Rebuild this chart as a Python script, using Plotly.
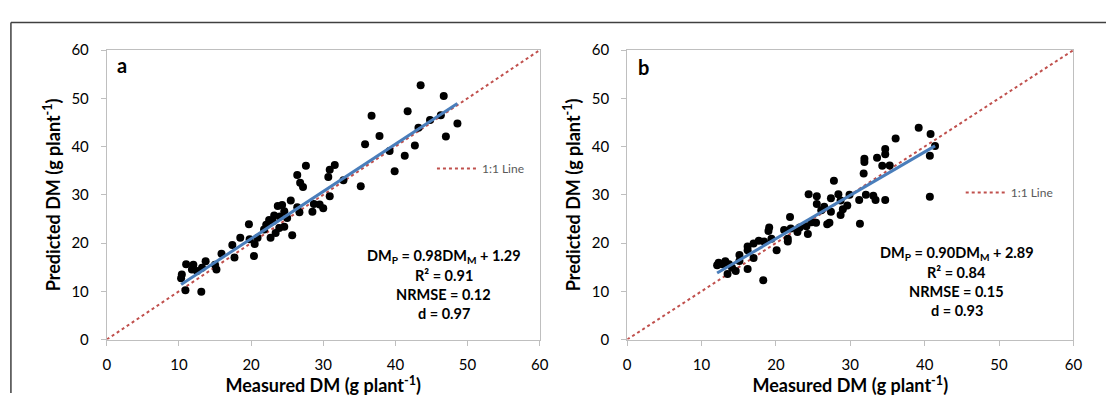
import plotly.graph_objects as go

# ---------------- data ----------------
a_measured = [43.5, 46.7, 36.7, 41.7, 48.6, 47.0, 37.8, 35.8, 42.7, 43.2, 44.8, 46.3, 39.2, 41.3, 39.9,
              35.2, 27.6, 31.6, 30.9, 30.7, 26.4, 26.8, 27.2, 32.8, 30.9, 30.0, 28.7, 28.5, 25.5, 24.3,
              23.7, 24.6, 26.4, 26.7, 23.2, 22.5, 22.1, 23.9, 24.6, 23.4, 22.7, 25.7, 19.7, 20.9, 20.5,
              18.5, 17.4, 17.7, 20.4, 15.9, 15.0, 15.2, 13.7, 13.2, 12.0, 11.0, 11.8, 10.4, 10.3, 10.9,
              13.1, 12.5, 21.8, 19.8, 23.0, 24.0, 25.0, 29.5]
a_predicted = [52.7, 50.5, 46.4, 47.3, 44.8, 42.1, 42.2, 40.5, 40.2, 43.9, 45.5, 46.5, 39.1, 38.1, 34.9,
               31.8, 36.0, 36.2, 35.2, 33.7, 34.1, 32.5, 31.6, 33.0, 29.7, 27.2, 28.1, 26.5, 28.8, 27.9,
               27.7, 26.6, 27.4, 26.4, 25.7, 24.8, 23.8, 23.1, 23.4, 22.1, 21.1, 21.6, 23.9, 21.1, 19.8,
               21.1, 19.6, 17.0, 17.3, 17.8, 15.5, 14.5, 16.2, 14.9, 15.5, 15.6, 14.5, 13.5, 12.7, 10.2,
               9.9, 14.2, 22.8, 20.8, 24.5, 25.5, 25.2, 28.0]

b_measured = [39.2, 40.8, 36.1, 41.4, 40.7, 40.7, 34.7, 34.7, 33.6, 31.9, 31.9, 34.3, 35.3, 31.8, 27.8,
              24.4, 25.5, 28.4, 29.9, 27.4, 28.7, 29.6, 31.2, 32.1, 33.1, 33.4, 34.7, 25.5, 26.1, 27.4,
              28.7, 31.3, 21.9, 24.8, 25.4, 24.1, 27.2, 26.9, 24.3, 22.9, 22.0, 21.1, 23.2, 21.6, 21.6,
              19.1, 19.0, 19.4, 18.4, 17.7, 17.0, 16.2, 16.2, 20.1, 15.1, 17.0, 15.1, 14.6, 16.2, 18.3,
              13.5, 13.2, 12.3, 12.1, 12.8, 14.1, 13.7, 26.5, 29.0]
b_predicted = [43.9, 42.6, 41.7, 40.1, 38.1, 29.6, 39.5, 38.4, 37.7, 37.5, 36.8, 36.0, 36.1, 34.4, 32.9,
               30.1, 29.7, 30.1, 30.0, 29.3, 28.8, 27.8, 28.9, 30.0, 29.8, 28.9, 28.9, 28.1, 26.8, 26.5,
               25.8, 24.0, 25.4, 24.3, 24.2, 23.5, 24.2, 23.9, 21.9, 22.3, 23.0, 22.7, 23.2, 20.9, 20.3,
               23.2, 22.5, 20.9, 20.3, 20.5, 19.9, 19.3, 18.5, 18.5, 17.5, 16.9, 16.3, 14.2, 14.6, 12.3,
               13.6, 16.2, 15.9, 15.4, 15.6, 14.9, 15.6, 27.5, 27.0]

a_slope, a_intercept = 0.98, 1.29
b_slope, b_intercept = 0.90, 2.89

one_to_one = [0, 60]
tick_vals = [0, 10, 20, 30, 40, 50, 60]

a_stats = ["DM<sub>P</sub> = 0.98DM<sub>M</sub> + 1.29", "R² = 0.91", "NRMSE = 0.12", "d = 0.97"]
b_stats = ["DM<sub>P</sub> = 0.90DM<sub>M</sub> + 2.89", "R² = 0.84", "NRMSE = 0.15", "d = 0.93"]

FONT = "Lato"
W, H = 1115, 401

fig = go.Figure()


def add_panel(xs, ys, slope, intercept, xa, ya, legend):
    fig.add_trace(go.Scatter(x=one_to_one, y=one_to_one, mode="lines", name="1:1 Line",
                             line=dict(color="#C0504D", width=2, dash="dot"),
                             xaxis=xa, yaxis=ya, legend=legend, showlegend=True))
    fig.add_trace(go.Scatter(x=xs, y=ys, mode="markers", marker=dict(color="black", size=8),
                             xaxis=xa, yaxis=ya, showlegend=False))
    x0, x1 = min(xs), max(xs)
    fig.add_trace(go.Scatter(x=[x0, x1], y=[slope * x0 + intercept, slope * x1 + intercept],
                             mode="lines", line=dict(color="#4A7EBB", width=3),
                             xaxis=xa, yaxis=ya, showlegend=False))


add_panel(a_measured, a_predicted, a_slope, a_intercept, "x", "y", "legend")
add_panel(b_measured, b_predicted, b_slope, b_intercept, "x2", "y2", "legend2")


def px(v):
    return v / W


def py(v):
    return 1 - v / H


ydom = [py(345), py(42)]
axis_common = dict(range=[0, 60], tickvals=tick_vals, showgrid=False, zeroline=False,
                   showline=True, linecolor="#BFBFBF", linewidth=1, mirror=True,
                   ticks="outside", ticklen=5, tickcolor="#BFBFBF",
                   tickfont=dict(family=FONT, size=15, color="#000000"))

xtitle = dict(text="<b>Measured DM (g plant<sup>-1</sup>)</b>", font=dict(family=FONT, size=18, color="#000"), standoff=0)
ytitle = dict(text="<b>Predicted DM (g plant<sup>-1</sup>)</b>", font=dict(family=FONT, size=18, color="#000"), standoff=6)

legend_common = dict(xanchor="left", yanchor="middle", bgcolor="rgba(0,0,0,0)", itemwidth=40,
                     font=dict(family=FONT, size=12, color="#595959"))

fig.update_layout(
    width=W, height=H, autosize=False,
    margin=dict(l=0, r=0, t=0, b=0),
    paper_bgcolor="white", plot_bgcolor="white",
    xaxis=dict(domain=[px(104), px(542)], anchor="y", title=xtitle, ticklabelstandoff=6, **axis_common),
    yaxis=dict(domain=ydom, anchor="x", title=ytitle, ticklabelstandoff=9, **axis_common),
    xaxis2=dict(domain=[px(630.5), px(1082)], anchor="y2", title=xtitle, ticklabelstandoff=6, **axis_common),
    yaxis2=dict(domain=ydom, anchor="x2", title=ytitle, ticklabelstandoff=9, **axis_common),
    legend=dict(x=px(433), y=py(166), **legend_common),
    legend2=dict(x=px(968), y=py(191), **legend_common),
    showlegend=True,
)

# outer frame
fig.add_shape(type="line", xref="paper", yref="paper", x0=px(7), x1=1, y0=py(13), y1=py(13),
              line=dict(color="#404040", width=1.5))
fig.add_shape(type="line", xref="paper", yref="paper", x0=px(7), x1=px(7), y0=0, y1=py(13),
              line=dict(color="#404040", width=1.5))

# panel letters
fig.add_annotation(xref="paper", yref="paper", x=px(112), y=py(58), text="<b>a</b>", showarrow=False,
                   xanchor="left", yanchor="middle", font=dict(family=FONT, size=20, color="#000"))
fig.add_annotation(xref="paper", yref="paper", x=px(639), y=py(60), text="<b>b</b>", showarrow=False,
                   xanchor="left", yanchor="middle", font=dict(family=FONT, size=20, color="#000"))

# stats text
for i, line in enumerate(a_stats):
    fig.add_annotation(xref="paper", yref="paper", x=px(445), y=py(258 + 20 * i),
                       text="<b>" + line + "</b>", showarrow=False, xanchor="center", yanchor="middle",
                       font=dict(family=FONT, size=14.5, color="#000"))
for i, line in enumerate(b_stats):
    fig.add_annotation(xref="paper", yref="paper", x=px(964), y=py(255 + 20 * i),
                       text="<b>" + line + "</b>", showarrow=False, xanchor="center", yanchor="middle",
                       font=dict(family=FONT, size=14.5, color="#000"))

fig.write_html(
    "out.html",
    config={"displayModeBar": False},
    post_script="document.body.style.margin='0px';document.body.style.overflow='hidden';",
)
